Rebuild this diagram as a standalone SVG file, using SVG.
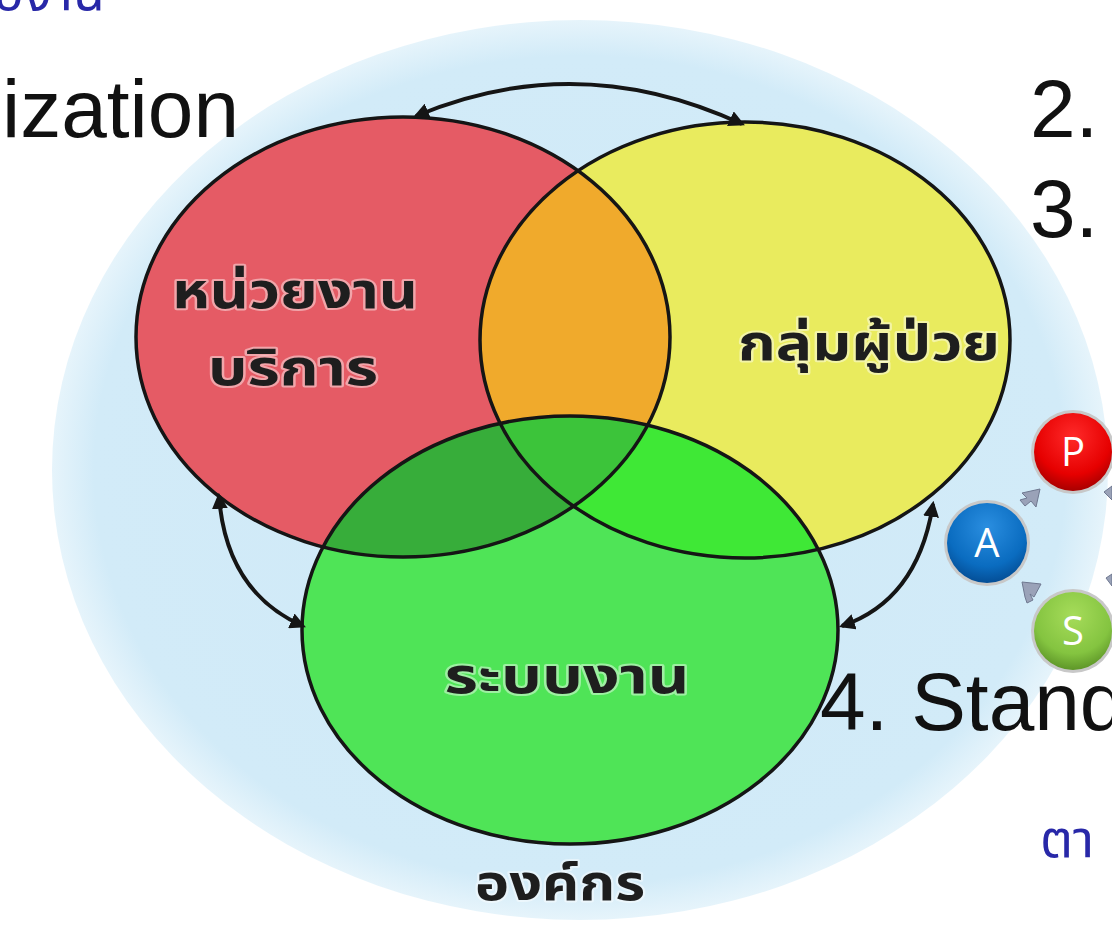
<svg xmlns="http://www.w3.org/2000/svg" width="1112" height="931" viewBox="0 0 1112 931">
<style>
.outline{fill:none;stroke:#151515;stroke-width:3.5}
.th{font-family:"Noto Sans Thai","Noto Sans","DejaVu Sans",sans-serif;font-weight:bold;fill:#1e1e1e;stroke:#ffffff;stroke-opacity:0.45;stroke-width:4;paint-order:stroke;stroke-linejoin:round}
.en{font-family:"Liberation Sans",Arial,sans-serif;fill:#111}
.blue{font-family:"Noto Sans Thai","Noto Sans","DejaVu Sans",sans-serif;fill:#2828a8}
.conn{fill:none;stroke:#151515;stroke-width:4}
.btn{font-family:"Open Sans","Liberation Sans",sans-serif;font-size:40px;fill:#fff;text-anchor:middle}
.tri{fill:#9aa2b8;stroke:#6f7890;stroke-width:1}
</style>
<defs>
<radialGradient id="bg" cx="0.5" cy="0.5" r="0.5">
<stop offset="0" stop-color="#cfe9f7"/>
<stop offset="0.92" stop-color="#d2ebf8"/>
<stop offset="1" stop-color="#e6f4fb"/>
</radialGradient>
<radialGradient id="gRed" cx="0.5" cy="0.3" r="0.7">
<stop offset="0" stop-color="#ff2a2a"/>
<stop offset="0.7" stop-color="#e60000"/>
<stop offset="1" stop-color="#a80000"/>
</radialGradient>
<radialGradient id="gBlue" cx="0.5" cy="0.3" r="0.7">
<stop offset="0" stop-color="#2a8ee0"/>
<stop offset="0.7" stop-color="#0a6cc0"/>
<stop offset="1" stop-color="#044e96"/>
</radialGradient>
<radialGradient id="gGreen" cx="0.5" cy="0.3" r="0.7">
<stop offset="0" stop-color="#a6dc5a"/>
<stop offset="0.7" stop-color="#84c440"/>
<stop offset="1" stop-color="#5e9628"/>
</radialGradient>
<clipPath id="cRed"><ellipse cx="403" cy="337" rx="267" ry="220"/></clipPath>
<clipPath id="cYellow"><ellipse cx="745" cy="340" rx="265" ry="218"/></clipPath>
<marker id="ah" viewBox="0 0 10 10" refX="8" refY="5" markerWidth="4" markerHeight="4" orient="auto-start-reverse" markerUnits="strokeWidth">
<path d="M0,0 L10,5 L0,10 Z" fill="#151515"/>
</marker>
</defs>

<rect width="1112" height="931" fill="#ffffff"/>
<ellipse id="background" cx="580" cy="470" rx="528" ry="450" fill="url(#bg)"/>

<g id="venn">
<g id="node-service">
<ellipse cx="403" cy="337" rx="267" ry="220" fill="#e55b65"/>
</g>
<g id="node-patient">
<ellipse cx="745" cy="340" rx="265" ry="218" fill="#e9eb5e"/>
<ellipse cx="745" cy="340" rx="265" ry="218" fill="#f0aa2c" clip-path="url(#cRed)"/>
</g>
<g id="node-system">
<ellipse cx="570" cy="630" rx="268" ry="214" fill="#4fe457"/>
<ellipse cx="570" cy="630" rx="268" ry="214" fill="#37ad3a" clip-path="url(#cRed)"/>
<ellipse cx="570" cy="630" rx="268" ry="214" fill="#3fe836" clip-path="url(#cYellow)"/>
<g clip-path="url(#cRed)"><ellipse cx="570" cy="630" rx="268" ry="214" fill="#3cc43a" clip-path="url(#cYellow)"/></g>
</g>
<ellipse class="outline" cx="403" cy="337" rx="267" ry="220"/>
<ellipse class="outline" cx="745" cy="340" rx="265" ry="218"/>
<ellipse class="outline" cx="570" cy="630" rx="268" ry="214"/>
<text class="th" x="295" y="308" font-size="50" text-anchor="middle" textLength="246" lengthAdjust="spacingAndGlyphs">หน่วยงาน</text>
<text class="th" x="293" y="385" font-size="50" text-anchor="middle" textLength="170" lengthAdjust="spacingAndGlyphs">บริการ</text>
<text class="th" x="869" y="360" font-size="50" text-anchor="middle" textLength="262" lengthAdjust="spacingAndGlyphs">กลุ่มผู้ป่วย</text>
<text class="th" x="567" y="693" font-size="50" text-anchor="middle" textLength="245" lengthAdjust="spacingAndGlyphs">ระบบงาน</text>
<text class="th" x="560" y="900" font-size="50" text-anchor="middle" textLength="170" lengthAdjust="spacingAndGlyphs">องค์กร</text>
</g>

<g id="connectors">
<path class="conn" d="M416 116 Q578 48 742 124" marker-start="url(#ah)" marker-end="url(#ah)"/>
<path class="conn" d="M219 496 Q226 592 303 626" marker-start="url(#ah)" marker-end="url(#ah)"/>
<path class="conn" d="M933 504 Q918 600 842 626" marker-start="url(#ah)" marker-end="url(#ah)"/>
</g>

<g id="pdca">
<g id="node-P">
<circle cx="1073" cy="452" r="42" fill="#c8c8c8"/>
<circle cx="1073" cy="452" r="39" fill="url(#gRed)"/>
<text class="btn" x="1073" y="466">P</text>
</g>
<g id="node-A">
<circle cx="987" cy="543" r="43" fill="#c8c8c8"/>
<circle cx="987" cy="543" r="40" fill="url(#gBlue)"/>
<text class="btn" x="987" y="557">A</text>
</g>
<g id="node-S">
<circle cx="1073" cy="631" r="42" fill="#c8c8c8"/>
<circle cx="1073" cy="631" r="39" fill="url(#gGreen)"/>
<text class="btn" x="1073" y="645">S</text>
</g>
<polygon class="tri" points="1022,493 1040,489 1036,507 1031,501 1025,506 1020,500 1027,498"/>
<polygon class="tri" points="1022,582 1041,584 1034,597 1030,594 1033,600 1027,603 1025,597"/>
<polygon class="tri" points="1104,492 1112,486 1112,500"/>
<polygon class="tri" points="1106,578 1112,574 1112,586"/>
</g>

<g id="page-text">
<text class="blue" x="-6" y="10" font-size="52">องาน</text>
<text class="en" x="2" y="137" font-size="82">ization</text>
<text class="en" x="1030" y="137" font-size="82">2.</text>
<text class="en" x="1030" y="237" font-size="82">3.</text>
<text class="en" x="820" y="730" font-size="82">4. Stand</text>
<text class="blue" x="1040" y="857" font-size="52">ตา</text>
</g>
</svg>
